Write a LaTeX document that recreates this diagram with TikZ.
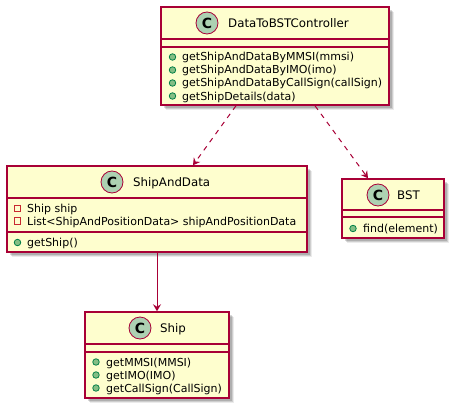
\documentclass[tikz,border=0pt]{standalone}
\usepackage{fontspec}
\setmainfont{DejaVu Sans}
\usetikzlibrary{arrows.meta,shadows}
\definecolor{cfill}{HTML}{FEFECE}
\definecolor{cborder}{HTML}{A80036}
\definecolor{ciconfill}{HTML}{ADD1B2}
\definecolor{pubfill}{HTML}{84BE84}
\definecolor{pubdraw}{HTML}{038048}
\definecolor{privdraw}{HTML}{C82930}
\tikzset{
  classbox/.style={draw=cborder, fill=cfill, line width=1.5pt, inner sep=0pt,
    drop shadow={shadow xshift=5pt, shadow yshift=-5pt, opacity=0.08, fill=black},
    drop shadow={shadow xshift=4pt, shadow yshift=-4pt, opacity=0.12, fill=black},
    drop shadow={shadow xshift=3pt, shadow yshift=-3pt, opacity=0.15, fill=black}},
  sepline/.style={draw=cborder, line width=1.5pt},
  cicon/.style={circle, draw=cborder, fill=ciconfill, line width=0.8pt, minimum size=22pt,
    inner sep=0pt, font=\bfseries\fontsize{14}{14}\selectfont},
  cname/.style={anchor=base west, inner sep=0pt, font=\fontsize{11.8}{14}\selectfont},
  member/.style={anchor=base west, inner sep=0pt, font=\fontsize{11}{13}\selectfont},
  pubicon/.style={circle, draw=pubdraw, fill=pubfill, line width=0.8pt, minimum size=6.5pt, inner sep=0pt},
  privicon/.style={rectangle, draw=privdraw, fill=cfill, line width=0.8pt, minimum size=6.5pt, inner sep=0pt},
  depend/.style={draw=cborder, line width=1pt, dash pattern=on 5pt off 5pt,
    -{Stealth[length=7pt,width=8pt,inset=2.5pt]}},
  assoc/.style={draw=cborder, line width=1pt, -{Stealth[length=7pt,width=8pt,inset=2.5pt]}}
}
\begin{document}
\begin{tikzpicture}[x=1pt,y=-1pt]
\useasboundingbox (0,0) rectangle (458,412);

% DataToBSTController
\node[classbox, minimum width=228pt, minimum height=98pt] (ctrl) at (275,56) {};
\draw[sepline] (ctrl.west |- 0,39) -- (ctrl.east |- 0,39);
\draw[sepline] (ctrl.west |- 0,47) -- (ctrl.east |- 0,47);
\node[cicon] (ctrlC) at (207,23) {C};
\node[cname] (ctrlN) at (228,27.5) {DataToBSTController};
\node[pubicon] (ctrlp1) at (172.5,57) {};
\node[pubicon] (ctrlp2) at (172.5,70) {};
\node[pubicon] (ctrlp3) at (172.5,83) {};
\node[pubicon] (ctrlp4) at (172.5,96) {};
\node[member] (ctrlm1) at (182,61) {getShipAndDataByMMSI(mmsi)};
\node[member] (ctrlm2) at (182,74) {getShipAndDataByIMO(imo)};
\node[member] (ctrlm3) at (182,87) {getShipAndDataByCallSign(callSign)};
\node[member] (ctrlm4) at (182,100) {getShipDetails(data)};

% ShipAndData
\node[classbox, minimum width=300pt, minimum height=86pt] (sad) at (157,209) {};
\draw[sepline] (sad.west |- 0,198) -- (sad.east |- 0,198);
\draw[sepline] (sad.west |- 0,232) -- (sad.east |- 0,232);
\node[cicon] (sadC) at (112,182) {C};
\node[cname] (sadN) at (133,186.5) {ShipAndData};
\node[privicon] (sadf1i) at (17.5,208.5) {};
\node[privicon] (sadf2i) at (17.5,221) {};
\node[member] (sadf1) at (27,212.5) {Ship ship};
\node[member] (sadf2) at (27,225) {List<ShipAndPositionData> shipAndPositionData};
\node[pubicon] (sadp1) at (17.5,242.5) {};
\node[member] (sadm1) at (27,246.5) {getShip()};

% BST
\node[classbox, minimum width=102pt, minimum height=59pt] (bst) at (393,208.5) {};
\draw[sepline] (bst.west |- 0,210) -- (bst.east |- 0,210);
\draw[sepline] (bst.west |- 0,217) -- (bst.east |- 0,217);
\node[cicon] (bstC) at (378,195) {C};
\node[cname] (bstN) at (397,199.5) {BST};
\node[pubicon] (bstp1) at (353,228.5) {};
\node[member] (bstm1) at (363,232.5) {find(element)};

% Ship
\node[classbox, minimum width=144pt, minimum height=86pt] (ship) at (157,355) {};
\draw[sepline] (ship.west |- 0,344) -- (ship.east |- 0,344);
\draw[sepline] (ship.west |- 0,352) -- (ship.east |- 0,352);
\node[cicon] (shipC) at (140,328) {C};
\node[cname] (shipN) at (160,332.5) {Ship};
\node[pubicon] (shipp1) at (96,362) {};
\node[pubicon] (shipp2) at (96,375) {};
\node[pubicon] (shipp3) at (96,388) {};
\node[member] (shipm1) at (106,366) {getMMSI(MMSI)};
\node[member] (shipm2) at (106,379) {getIMO(IMO)};
\node[member] (shipm3) at (106,392) {getCallSign(CallSign)};

% connectors
\draw[depend] ([xshift=-39pt]ctrl.south) -- ([xshift=36pt]sad.north);
\draw[depend] ([xshift=40pt]ctrl.south) -- ([xshift=-25pt]bst.north);
\draw[assoc] (sad.south) -- (ship.north);
\end{tikzpicture}
\end{document}
